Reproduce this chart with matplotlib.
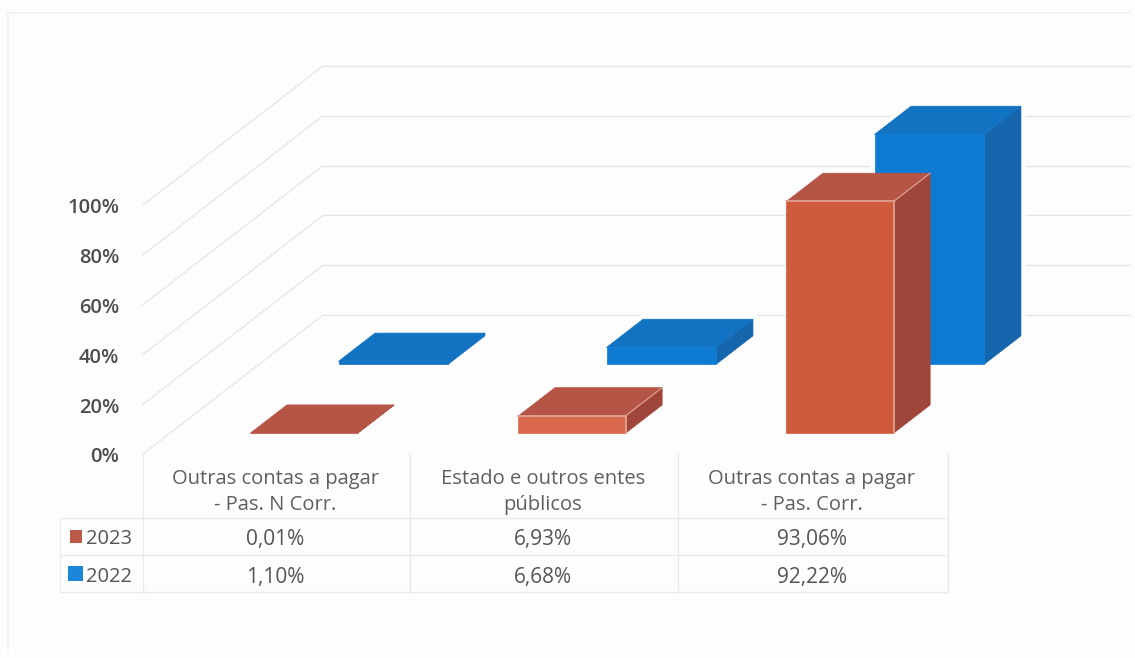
# grafico 3D de colunas com tabela de dados por baixo
import matplotlib
matplotlib.use("Agg")
import matplotlib.pyplot as plt
from matplotlib.patches import Polygon, Rectangle

plt.rcParams['font.family'] = ['Open Sans', 'DejaVu Sans']

categories = ["Outras contas a pagar\n- Pas. N Corr.", "Estado e outros entes\npúblicos",
              "Outras contas a pagar\n- Pas. Corr."]
years = ["2023", "2022"]
values_2023 = [0.01, 6.93, 93.06]
values_2022 = [1.10, 6.68, 92.22]
labels_2023 = ["0,01%", "6,93%", "93,06%"]
labels_2022 = ["1,10%", "6,68%", "92,22%"]
y_ticks = [0, 20, 40, 60, 80, 100]

W, H = 1135, 658
# escala em pixels da projecao obliqua
PX_CAT = 268.0
PX_PCT = 2.49
X0, Y0 = 143, 454
DEPTH_X, DEPTH_Y = 180, 139

fig = plt.figure(figsize=(W / 100, H / 100), dpi=100, facecolor="#fdfdfe")
ax = fig.add_axes([0, 0, 1, 1])
ax.set_xlim(-X0 / PX_CAT, (W - X0) / PX_CAT)
ax.set_ylim(-(H - Y0) / PX_PCT, Y0 / PX_PCT)
ax.axis("off")


def proj(x, v, d):
    # x em categorias, v em %, d profundidade 0-1
    return x + d * DEPTH_X / PX_CAT, v + d * DEPTH_Y / PX_PCT


def bar3d(i, value, d_front, d_back, front, top, side, half=0.2, edge=None, halo=False):
    xl, xr = i + 0.5 - half, i + 0.5 + half
    f_bl = proj(xl, 0, d_front)
    f_br = proj(xr, 0, d_front)
    f_tl = proj(xl, value, d_front)
    f_tr = proj(xr, value, d_front)
    b_br = proj(xr, 0, d_back)
    b_tl = proj(xl, value, d_back)
    b_tr = proj(xr, value, d_back)
    if halo:
        ax.add_patch(Polygon([f_bl, f_br, b_br, b_tr, b_tl, f_tl], fc="#fdfdfe",
                             ec="#fdfdfe", lw=7, zorder=2))
    if value < 2:
        # coluna quase plana: so se ve o topo
        front = side = top
    ax.add_patch(Polygon([f_br, b_br, b_tr, f_tr], fc=side, ec=side, lw=0.5, zorder=3))
    ax.add_patch(Polygon([f_tl, f_tr, b_tr, b_tl], fc=top, ec=top, lw=0.5, zorder=3))
    ax.add_patch(Polygon([f_bl, f_br, f_tr, f_tl], fc=front, ec=front, lw=0.5, zorder=3))
    if edge and value > 2:
        ax.plot(*zip(f_tl, f_tr, f_br), color=edge, lw=1.2, zorder=3)
        ax.plot(*zip(f_tr, b_tr), color=edge, lw=0.8, zorder=3)


# grelha: parede esquerda e parede do fundo
for v in y_ticks:
    x1, y1 = proj(0, v, 0)
    x2, y2 = proj(0, v, 1)
    ax.plot([x1, x2], [y1, y2], color="#e6e7e9", lw=1, zorder=1)
    ax.plot([x2, (1130 - X0) / PX_CAT], [y2, y2], color="#e4e5e7", lw=1, zorder=1)
    ax.text(-24 / PX_CAT, v - 1.4, f"{v}%", ha="right", va="center", fontsize=14.5,
            color="#4d4d4d", fontweight="semibold")

for i in range(3):
    bar3d(i, values_2022[i], 0.647, 0.85, "#0e7bd2", "#1273c2", "#1566ad", half=0.205, halo=True)
for i in range(3):
    front = "#d9684c" if values_2023[i] < 50 else "#cf5a3c"
    bar3d(i, values_2023[i], 0.15, 0.353, front, "#b55546", "#a0453a", edge="#e0a898")

# tabela de dados, em pixels
lay = fig.add_axes([0, 0, 1, 1], facecolor="none")
lay.set_xlim(0, W)
lay.set_ylim(H, 0)
lay.axis("off")
col_x = [143, 410, 678, 948]
row_y = [518, 555, 592]
for cx in col_x:
    lay.plot([cx, cx], [454, 592], color="#e9eaec", lw=1)
for ry in row_y:
    lay.plot([60, 948], [ry, ry], color="#e9eaec", lw=1)
lay.plot([60, 60], [518, 592], color="#eeeff1", lw=1)

for c, name in enumerate(categories):
    cx = (col_x[c] + col_x[c + 1]) / 2 - 1
    lay.text(cx, 492, name, ha="center", va="center", fontsize=14.5, color="#5f5f5f",
             linespacing=1.37)
    lay.text(cx, 539, labels_2023[c], ha="center", va="center", fontsize=15, color="#555555")
    lay.text(cx, 577, labels_2022[c], ha="center", va="center", fontsize=15, color="#555555")

lay.add_patch(Rectangle((70, 530), 12, 13, fc="#bb5a48", ec="none"))
lay.add_patch(Rectangle((68, 566), 15, 15, fc="#1c86d8", ec="none"))
lay.text(86, 539, years[0], ha="left", va="center", fontsize=14.5, color="#555555")
lay.text(86, 577, years[1], ha="left", va="center", fontsize=14.5, color="#555555")

# moldura tenue da digitalizacao
lay.plot([8, 8], [14, 650], color="#eeeff1", lw=1.2)
lay.plot([8, 1130], [13, 13], color="#f0f1f2", lw=1.2)

fig.savefig("out.png", dpi=100, facecolor=fig.get_facecolor())
